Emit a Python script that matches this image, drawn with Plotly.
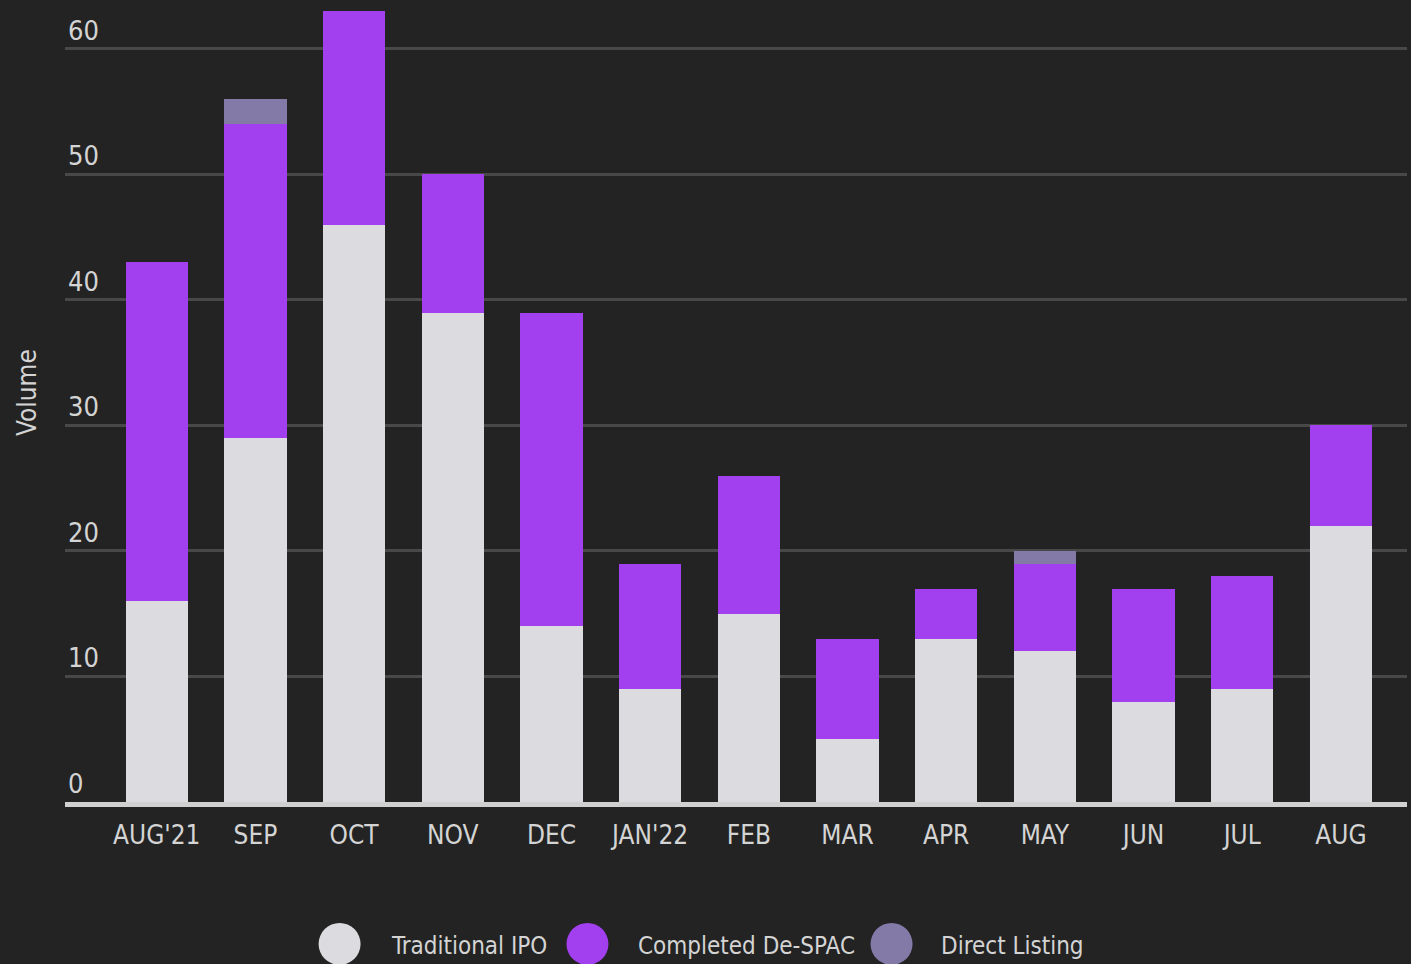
import plotly.graph_objects as go

months = ["AUG'21", "SEP", "OCT", "NOV", "DEC", "JAN'22", "FEB", "MAR", "APR", "MAY", "JUN", "JUL", "AUG"]
traditional_ipo = [16, 29, 46, 39, 14, 9, 15, 5, 13, 12, 8, 9, 22]
completed_despac = [27, 25, 17, 11, 25, 10, 11, 8, 4, 7, 9, 9, 8]
direct_listing = [0, 2, 0, 0, 0, 0, 0, 0, 0, 1, 0, 0, 0]
series_names = ["Traditional IPO", "Completed De-SPAC", "Direct Listing"]
y_ticks = [0, 10, 20, 30, 40, 50, 60]

colors = ["#dcdbe0", "#a23fef", "#837aa8"]
FONT = "'Liberation Sans Narrow', 'DejaVu Sans Condensed', 'Roboto Condensed', sans-serif"
TXT = "#d4d4d4"
BG = "#232323"


def f(size):
    return dict(family=FONT, color=TXT, size=size)


fig = go.Figure()
for name, vals, col in zip(series_names, [traditional_ipo, completed_despac, direct_listing], colors):
    fig.add_trace(go.Bar(x=list(range(len(months))), y=vals, name=name, marker_color=col,
                         marker_line_width=0, width=0.63, showlegend=False))

fig.update_layout(
    barmode="stack",
    width=1411, height=964,
    paper_bgcolor=BG, plot_bgcolor=BG,
    margin=dict(l=65, r=4, t=0, b=162),
    font=f(26),
    showlegend=False,
)
fig.update_xaxes(
    range=[-0.93, 12.67], tickmode="array", tickvals=list(range(len(months))), ticktext=months,
    showgrid=False, showline=True, linecolor="#d0d0d0", linewidth=5, ticks="",
    tickfont=f(26), zeroline=False, ticklabelstandoff=6,
)
fig.update_yaxes(
    range=[0, 63.9], tickmode="array", tickvals=y_ticks,
    showgrid=True, gridcolor="#484848", gridwidth=3, zeroline=False,
    ticklabelposition="inside top", tickfont=f(27),
    showline=False, ticks="",
)
fig.add_annotation(text="Volume", textangle=-90, xref="paper", yref="paper", x=-0.0283, y=0.51,
                   showarrow=False, font=f(26), xanchor="center", yanchor="middle")

circle_x = [0.2046, 0.3893, 0.6159]
text_x = [0.2414, 0.4255, 0.6513]
for name, col, cx, tx in zip(series_names, colors, circle_x, text_x):
    fig.add_shape(type="circle", xref="paper", yref="paper", xsizemode="pixel", ysizemode="pixel",
                  xanchor=cx, yanchor=-0.177, x0=-21, x1=21, y0=-21, y1=21,
                  fillcolor=col, line_width=0)
    fig.add_annotation(text=name, xref="paper", yref="paper", x=tx, y=-0.1796, showarrow=False,
                       xanchor="left", yanchor="middle", font=f(24))

fig.write_html("out.html", config={"displayModeBar": False},
               post_script="document.body.style.margin='0';document.body.style.background='#232323';")
